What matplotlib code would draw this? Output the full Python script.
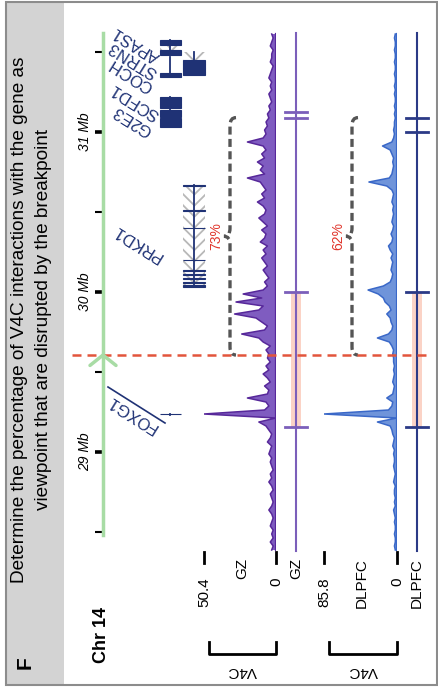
import numpy as np
import matplotlib
matplotlib.use("Agg")
import matplotlib.pyplot as plt
from matplotlib.patches import Rectangle, PathPatch
from matplotlib.path import Path

plt.rcParams["font.family"] = ["Liberation Sans", "DejaVu Sans"]
plt.rcParams["hatch.linewidth"] = 1.3

W, H = 439, 689

# ---------------- data ----------------
BIN_START = 28.3875   # Mb, first V4C bin
BIN_STEP = 0.025      # Mb per bin

gz_vals = [3, 2, 4,
           2, 3, 2, 4, 3, 2, 3, 5, 3, 2,
           3, 4, 2, 3, 5, 3, 4, 2, 3, 4,
           3, 5, 4, 3, 6, 4, 3, 5, 7,
           12, 0, 50.4, 8, 5, 7, 20, 6,
           5, 8, 4, 6, 9, 5, 7, 4,
           6, 5, 7, 4, 9, 12, 24, 8, 6, 10, 14, 29, 12, 9, 28, 10, 23, 9, 6, 8, 5,
           7, 9, 6, 8, 10,
           7, 9, 6, 11, 8, 7, 10, 6, 9, 12, 8, 7, 9,
           13, 8, 10, 7, 9, 11, 20, 8, 11, 9, 13, 8, 10, 7, 9, 20,
           9, 7, 8, 6, 7,
           5, 6, 4, 5, 3, 4, 5, 3, 4, 3, 5, 4, 3, 2, 4, 3, 3, 2, 4, 3, 2, 3]

dlpfc_vals = [2, 3, 2,
              2, 3, 2, 2, 3, 2, 3, 4, 2, 3,
              2, 3, 3, 2, 4, 3, 2, 3, 4, 3,
              3, 4, 3, 5, 4, 3, 5, 6, 8,
              23, 0, 85.8, 10, 6, 5, 12, 5,
              4, 3, 5, 4, 3, 4, 3, 4,
              4, 5, 4, 6, 9, 23, 10, 6, 5, 7, 8, 12, 7, 9, 14, 16, 22, 34, 16,
              8, 6, 5, 7, 6, 5, 7, 5, 8, 10,
              6, 5, 7, 5, 4, 6, 5, 4, 5, 4, 6, 5,
              4, 6, 12, 33, 9, 6, 5, 4, 5, 4, 6, 8, 17,
              6, 4, 3, 4, 3, 3,
              2, 3, 2, 3, 2, 2, 3, 2, 3, 2, 2, 3, 2, 2, 3, 2, 2, 3, 2, 2, 3, 2]

GZ_MAX = 50.4
DLPFC_MAX = 85.8

breakpoint_mb = 29.606
region_mb = (29.156, 30.0)          # highlighted region on the line tracks
gz_break = [31.0875, 31.125]
dlpfc_break = [31.0, 31.0875]
brace_top = 31.09
pct_labels = ["73%", "62%"]

ruler_major = [29, 30, 31]
ruler_minor = [28.5, 29.5, 30.5, 31.5]
ruler_span = (28.48, 31.62)
track_span = (28.38, 31.62)

gene_names = ["FOXG1", "PRKD1", "G2E3", "SCFD1", "COCH", "STRN3", "APAS1"]
gene_start = [29.234, 30.031, 31.031, 31.092, 31.344, 31.356, 31.481]
gene_end = [29.240, 30.669, 31.086, 31.219, 31.469, 31.500, 31.575]
gene_row = [0, 1, 0, 0, 0, 1, 0]
gene_exons = [
    [(29.236, 29.239)],
    [(30.664, 30.669), (30.509, 30.514), (30.397, 30.402), (30.197, 30.202),
     (30.133, 30.140), (30.108, 30.115), (30.083, 30.090), (30.058, 30.065),
     (30.031, 30.046)],
    [(31.031, 31.086)],
    [(31.092, 31.140), (31.147, 31.172), (31.178, 31.197), (31.203, 31.219)],
    [(31.344, 31.369)],
    [(31.356, 31.372), (31.378, 31.397), (31.403, 31.422), (31.428, 31.450)],
    [(31.481, 31.5125), (31.544, 31.575)],
]
gene_hatch = [None, (30.046, 30.664), None, None, None, (31.45, 31.50), (31.5125, 31.544)]

# ---------------- layout helpers ----------------
MB_TOP = 30 + 292 / 160
MB_BOT = 30 + (292 - H) / 160

NAVY = "#1f3275"
GRAY_HATCH = "#b8b8b8"
GREEN = "#a8dca5"
RED = "#e2553c"
PINK = "#fbd3c6"

plt.rcParams["hatch.color"] = GRAY_HATCH

fig = plt.figure(figsize=(W / 100, H / 100), dpi=100)


def px_axes(x0, x1):
    ax = fig.add_axes([x0 / W, 0, (x1 - x0) / W, 1])
    ax.set_ylim(MB_BOT, MB_TOP)
    ax.patch.set_visible(False)
    return ax


# canvas in pixel coordinates for the frame and static labels
cv = fig.add_axes([0, 0, 1, 1])
cv.set_xlim(0, W)
cv.set_ylim(H, 0)
cv.axis("off")
cv.add_patch(Rectangle((6, 2), 58, 683, facecolor="#d3d3d3", edgecolor="none"))
cv.add_patch(Rectangle((6, 2), 431, 683, fill=False, edgecolor="#8c8c8c", lw=1.5))

cv.text(20, 320, "Determine the percentage of V4C interactions with the gene as",
        rotation=90, ha="center", va="center", fontsize=13.7)
cv.text(44, 320, "viewpoint that are disrupted by the breakpoint",
        rotation=90, ha="center", va="center", fontsize=13.7)
cv.text(25, 663, "F", rotation=90, ha="center", va="center", fontsize=15, fontweight="bold")
cv.text(102, 635, "Chr 14", rotation=90, ha="center", va="center", fontsize=13, fontweight="bold")

# bottom track labels
for x in [204, 276, 324, 397]:
    cv.plot([x, x], [552, 563], color="black", lw=2)
for x, s in [(204, "50.4"), (276, "0"), (324, "85.8"), (397, "0")]:
    cv.text(x, 577, s, rotation=90, ha="center", va="top", fontsize=11)
for x, s in [(242, "GZ"), (296, "GZ"), (362, "DLPFC"), (417, "DLPFC")]:
    cv.text(x, 558, s, rotation=90, ha="center", va="top", fontsize=11)
for x0, x1 in [(209, 276), (329, 397)]:
    cv.plot([x0, x0, x1, x1], [642, 654, 654, 642], color="black", lw=2)
    cv.text((x0 + x1) / 2, 671, "V4C", rotation=180, ha="center", va="center", fontsize=11)

# ---------------- chromosome ruler ----------------
rax = px_axes(103, 104)
for side in ["top", "right", "bottom"]:
    rax.spines[side].set_visible(False)
rax.spines["left"].set_color(GREEN)
rax.spines["left"].set_linewidth(2.5)
rax.spines["left"].set_bounds(*ruler_span)
rax.set_xticks([])
rax.set_yticks(ruler_major)
rax.set_yticklabels([f"{m} Mb" for m in ruler_major])
rax.set_yticks(ruler_minor, minor=True)
rax.tick_params(axis="y", which="major", length=6, width=2.6, color="black",
                pad=2, labelsize=10, labelrotation=90)
rax.tick_params(axis="y", which="minor", length=6, width=1.5, color="black")
for lab in rax.get_yticklabels():
    lab.set_style("italic")
    lab.set_va("center")

# ---------------- V4C signal tracks ----------------
def signal_track(x0, x1, vals, vmax, fill, line):
    ax = px_axes(x0, x1)
    ax.set_xlim(vmax, 0)
    ax.axis("off")
    pos = BIN_START + BIN_STEP * np.arange(len(vals))
    ax.fill_betweenx(pos, 0, vals, facecolor=fill, edgecolor="none")
    ax.plot(vals, pos, color=line, lw=1.1)
    ax.plot([0, 0], [pos[0], pos[-1]], color=line, lw=1.6)
    return ax


signal_track(204, 276, gz_vals, GZ_MAX, "#7f5cc0", "#57289a")
signal_track(324, 397, dlpfc_vals, DLPFC_MAX, "#6f94da", "#3a68c8")

# ---------------- genome overlay (x in px, y in Mb) ----------------
ga = px_axes(0, W)
ga.set_xlim(0, W)
ga.axis("off")

# genes
row_x = [(160, 181), (183, 205)]
for i, name in enumerate(gene_names):
    x0, x1 = row_x[gene_row[i]]
    xc = (x0 + x1) / 2
    if gene_hatch[i] is not None:
        hs, he = gene_hatch[i]
        ga.add_patch(Rectangle((x0, hs), xc - x0, he - hs, fill=False, hatch="\\\\\\",
                               edgecolor=GRAY_HATCH, lw=0))
        ga.add_patch(Rectangle((xc, hs), x1 - xc, he - hs, fill=False, hatch="///",
                               edgecolor=GRAY_HATCH, lw=0))
    ga.plot([xc, xc], [gene_start[i], gene_end[i]], color=NAVY, lw=1.3)
    for es, ee in gene_exons[i]:
        ga.add_patch(Rectangle((x0, es), x1 - x0, ee - es, facecolor=NAVY,
                               edgecolor=NAVY, lw=0.8))

# gene labels (pixel anchors on the canvas)
label_xy = [(160, 422), (161, 258), (151, 132), (158, 116), (152, 88), (156, 74), (159, 58)]
for name, (x, y) in zip(gene_names, label_xy):
    cv.text(x, y, name, rotation=148, rotation_mode="anchor",
            ha="left", va="bottom" if name == "FOXG1" else "center",
            fontsize=12, color=NAVY, zorder=5)
cv.plot([165, 108], [423, 387], color=NAVY, lw=1.2)

# line tracks with highlighted region
for x, color, brk in [(296, "#7b5fba", gz_break), (417, "#2b3a86", dlpfc_break)]:
    ga.add_patch(Rectangle((x - 5, region_mb[0]), 10, region_mb[1] - region_mb[0],
                           facecolor=PINK, edgecolor="none"))
    ga.plot([x, x], track_span, color=color, lw=1.5)
    for y in list(region_mb) + brk:
        ga.plot([x - 11, x + 11], [y, y], color=color, lw=2)

# braces with percentages
def draw_brace(ax, x, y0, y1, w, d):
    ym = (y0 + y1) / 2
    verts = [(x + w, y1), (x, y1), (x, y1 - d),
             (x, ym + d), (x, ym), (x - w, ym),
             (x, ym), (x, ym - d),
             (x, y0 + d), (x, y0), (x + w, y0)]
    codes = [Path.MOVETO, Path.CURVE3, Path.CURVE3, Path.LINETO, Path.CURVE3, Path.CURVE3,
             Path.CURVE3, Path.CURVE3, Path.LINETO, Path.CURVE3, Path.CURVE3]
    ax.add_patch(PathPatch(Path(verts, codes), fill=False, edgecolor="#555555",
                           lw=2.4, linestyle=(0, (2.4, 1.3))))
    return ym


for x, lab in zip([230, 352], pct_labels):
    ym = draw_brace(ga, x, breakpoint_mb, brace_top, 6, 0.05)
    ga.text(x - 14, ym, lab, rotation=90, ha="center", va="center",
            fontsize=10, color="#e0352b")

# breakpoint
ga.plot([72, 432], [breakpoint_mb, breakpoint_mb], color=RED, lw=1.8, dashes=(3.6, 2.4))
ga.plot([90, 103, 116], [breakpoint_mb - 0.065, breakpoint_mb, breakpoint_mb - 0.065],
        color=GREEN, lw=2.5, solid_capstyle="round")

fig.savefig("out.png", dpi=100)
